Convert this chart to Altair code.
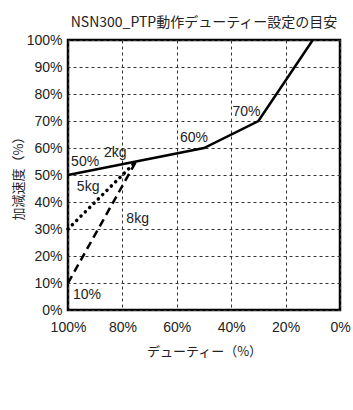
import altair as alt
import pandas as pd

FONT = "Liberation Sans, Noto Sans CJK JP"
CJK = "Noto Sans CJK JP"

# Solid line (2kg)
solid_duty = [100, 75, 50, 30, 10]
solid_acc = [50, 55, 60, 70, 100]
# Dotted line (5kg)
dot_duty = [100, 75]
dot_acc = [30, 55]
# Dashed line (8kg)
dash_duty = [100, 75]
dash_acc = [10, 55]

label_text = ["50%", "2kg", "5kg", "8kg", "10%", "60%", "70%"]
label_duty = [93.7, 82.6, 92.6, 74.4, 93.0, 53.7, 34.4]
label_acc = [54.8, 58.1, 45.6, 33.7, 5.6, 63.7, 73.3]

x_ticks = [100, 80, 60, 40, 20, 0]
y_ticks = [0, 10, 20, 30, 40, 50, 60, 70, 80, 90, 100]

df_solid = pd.DataFrame({"duty": solid_duty, "acc": solid_acc})
df_dot = pd.DataFrame({"duty": dot_duty, "acc": dot_acc})
df_dash = pd.DataFrame({"duty": dash_duty, "acc": dash_acc})
df_lab = pd.DataFrame({"duty": label_duty, "acc": label_acc, "text": label_text})

xscale = alt.Scale(domain=[0, 100], reverse=True, nice=False)
yscale = alt.Scale(domain=[0, 100], nice=False)

xaxis = alt.Axis(values=x_ticks, labelExpr="datum.value + '%'", title="デューティー（%）",
                 grid=True, gridDash=[3, 3], gridColor="#333", gridWidth=1,
                 ticks=False, domain=False, labelFontSize=14, labelColor="#222",
                 labelFont=FONT, labelPadding=10, labelFlush=False, labelOverlap=False,
                 titleFont=CJK, titleFontSize=13,
                 titleFontWeight="normal", titleColor="#222", titlePadding=11)
yaxis = alt.Axis(values=y_ticks, labelExpr="datum.value + '%'", title="加減速度（%）",
                 grid=True, gridDash=[3, 3], gridColor="#333", gridWidth=1,
                 ticks=False, domain=False, labelFontSize=14, labelColor="#222",
                 labelFont=FONT, labelPadding=6, labelFlush=False, labelOverlap=False,
                 titleFont=CJK, titleFontSize=13,
                 titleFontWeight="normal", titleColor="#222", titlePadding=1)

x = alt.X("duty:Q", scale=xscale, axis=xaxis)
y = alt.Y("acc:Q", scale=yscale, axis=yaxis)

solid = alt.Chart(df_solid).mark_line(color="black", strokeWidth=2.5).encode(x=x, y=y)
dotted = alt.Chart(df_dot).mark_line(color="black", strokeWidth=3.5, strokeDash=[0.1, 6],
                                     strokeCap="round").encode(x=x, y=y)
dashed = alt.Chart(df_dash).mark_line(color="black", strokeWidth=2.5, strokeDash=[8, 5]).encode(x=x, y=y)
labels = alt.Chart(df_lab).mark_text(font=FONT, fontSize=14, color="#222").encode(
    x=x, y=y, text="text:N")

chart = alt.layer(solid, dotted, dashed, labels).properties(
    width=272, height=270,
    title=alt.TitleParams("NSN300_PTP動作デューティー設定の目安", font=CJK, fontSize=14,
                          fontWeight="normal", color="#222", anchor="middle", offset=3),
    padding={"left": 68, "top": 40, "right": 13, "bottom": 100},
    autosize=alt.AutoSizeParams(type="none"),
).configure_view(stroke="black", strokeWidth=2.5)

chart.save("out.html", embed_options={"renderer": "svg", "actions": False})
